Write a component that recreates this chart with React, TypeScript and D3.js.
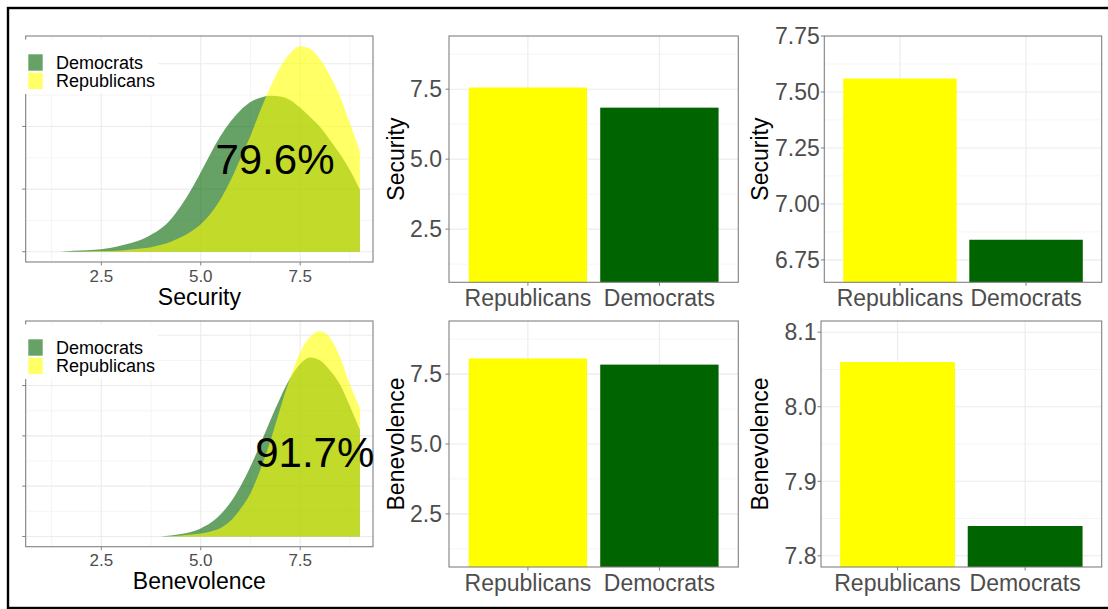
import React from "react";
import * as d3 from "d3";

// ---------- data ----------
const groups = ["Republicans", "Democrats"];
const securityMeans = [7.56, 6.84];
const benevolenceMeans = [8.06, 7.84];
const legendLabels = ["Democrats", "Republicans"];
const overlapLabels = ["79.6%", "91.7%"];
const overlapLabelY = [0.148, 0.168];

const securityDemX = [1.48, 1.8, 2.5, 3.0, 3.5, 3.75, 4.0, 4.25, 4.5, 4.75, 5.0, 5.25, 5.5, 5.75, 6.0, 6.25, 6.5, 6.75, 7.0, 7.25, 7.5, 7.75, 8.0, 8.25, 8.5, 8.75, 9.0];
const securityDemY = [0, 0.0015, 0.004, 0.01, 0.019, 0.027, 0.037, 0.052, 0.073, 0.098, 0.127, 0.157, 0.185, 0.208, 0.226, 0.239, 0.246, 0.249, 0.248, 0.242, 0.23, 0.215, 0.199, 0.178, 0.156, 0.13, 0.099];
const securityRepX = [2.0, 2.5, 3.0, 3.5, 3.75, 4.0, 4.25, 4.5, 4.75, 5.0, 5.25, 5.5, 5.75, 6.0, 6.25, 6.5, 6.75, 7.0, 7.25, 7.5, 7.75, 8.0, 8.25, 8.5, 8.75, 9.0];
const securityRepY = [0, 0.001, 0.002, 0.005, 0.007, 0.011, 0.016, 0.023, 0.032, 0.044, 0.061, 0.084, 0.114, 0.149, 0.185, 0.226, 0.263, 0.295, 0.317, 0.328, 0.324, 0.307, 0.281, 0.248, 0.205, 0.161];

const benevolenceDemX = [3.98, 4.25, 4.5, 4.75, 5.0, 5.25, 5.5, 5.75, 6.0, 6.25, 6.5, 6.75, 7.0, 7.25, 7.5, 7.75, 8.0, 8.25, 8.5, 8.75, 9.0];
const benevolenceDemY = [0, 0.002, 0.005, 0.009, 0.016, 0.027, 0.044, 0.068, 0.1, 0.139, 0.184, 0.231, 0.276, 0.315, 0.343, 0.356, 0.35, 0.33, 0.302, 0.259, 0.212];
const benevolenceRepX = [4.2, 4.5, 4.75, 5.0, 5.25, 5.5, 5.75, 6.0, 6.25, 6.5, 6.75, 7.0, 7.25, 7.5, 7.75, 8.0, 8.25, 8.5, 8.75, 9.0];
const benevolenceRepY = [0, 0.002, 0.004, 0.006, 0.01, 0.017, 0.031, 0.055, 0.086, 0.133, 0.19, 0.255, 0.316, 0.366, 0.397, 0.408, 0.395, 0.357, 0.302, 0.255];

const densityXTicks = [2.5, 5.0, 7.5];
const securityDensityTicks = [0, 0.1, 0.2, 0.3];
const benevolenceDensityTicks = [0, 0.1, 0.2, 0.3, 0.4];
const fullYTicks = [2.5, 5.0, 7.5];
const securityZoomTicks = [6.75, 7.0, 7.25, 7.5, 7.75];
const benevolenceZoomTicks = [7.8, 7.9, 8.0, 8.1];

// ---------- style ----------
const FONT = "'Liberation Sans', Arial, Helvetica, sans-serif";
const GRID_MAJOR = "#EBEBEB";
const GRID_MINOR = "#F2F2F2";
const BORDER = "#808080";
const TICK = "#808080";
const TICK_TEXT = "#4D4D4D";
const DEM_FILL = "#006400";
const REP_FILL = "#FFFF00";

type Box = { left: number; right: number; top: number; bottom: number };

function minorTicks(major: number[], domain: number[]) {
  const step = major[1] - major[0];
  let v = major[0] - step / 2;
  while (v - step >= domain[0]) v -= step;
  const out: number[] = [];
  for (; v <= domain[1] + 1e-9; v += step) if (v >= domain[0] - 1e-9) out.push(v);
  return out;
}

function DensityPanel(props: {
  box: Box; demX: number[]; demY: number[]; repX: number[]; repY: number[];
  yTicks: number[]; title: string; label: string; labelY: number; demMean: number; clipId: string;
}) {
  const { box, demX, demY, repX, repY, yTicks, title, label, labelY, demMean, clipId } = props;
  const x = d3.scaleLinear().domain([0.6, 9.33]).range([box.left, box.right]);
  const maxD = d3.max([...demY, ...repY]) as number;
  const yDom = [-0.05 * maxD, 1.05 * maxD];
  const y = d3.scaleLinear().domain(yDom).range([box.bottom, box.top]);
  const area = (xs: number[], ys: number[]) =>
    d3.area<number>().x((_, i) => x(xs[i])).y0(y(0)).y1((d) => y(d)).curve(d3.curveMonotoneX)(ys) || "";
  const xMinor = minorTicks(densityXTicks, x.domain());
  const yMinor = minorTicks(yTicks, yDom);
  const fmt = d3.format(".1f");
  const cx = (box.left + box.right) / 2;
  return (
    <g>
      <defs>
        <clipPath id={clipId}><rect x={box.left} y={box.top} width={box.right - box.left} height={box.bottom - box.top} /></clipPath>
      </defs>
      <rect x={box.left} y={box.top} width={box.right - box.left} height={box.bottom - box.top} fill="white" />
      <g clipPath={`url(#${clipId})`}>
        {xMinor.map((v) => <line key={"xm" + v} x1={x(v)} x2={x(v)} y1={box.top} y2={box.bottom} stroke={GRID_MINOR} strokeWidth={0.8} />)}
        {yMinor.map((v) => <line key={"ym" + v} y1={y(v)} y2={y(v)} x1={box.left} x2={box.right} stroke={GRID_MINOR} strokeWidth={0.8} />)}
        {densityXTicks.map((v) => <line key={"xM" + v} x1={x(v)} x2={x(v)} y1={box.top} y2={box.bottom} stroke={GRID_MAJOR} strokeWidth={1.1} />)}
        {yTicks.map((v) => <line key={"yM" + v} y1={y(v)} y2={y(v)} x1={box.left} x2={box.right} stroke={GRID_MAJOR} strokeWidth={1.1} />)}
        <path d={area(demX, demY)} fill={DEM_FILL} fillOpacity={0.6} />
        <path d={area(repX, repY)} fill={REP_FILL} fillOpacity={0.6} />
      </g>
      <rect x={box.left} y={box.top} width={box.right - box.left} height={box.bottom - box.top} fill="none" stroke={BORDER} strokeWidth={1.1} />
      {yTicks.map((v) => <line key={"yt" + v} x1={box.left - 3.5} x2={box.left} y1={y(v)} y2={y(v)} stroke={TICK} strokeWidth={1} />)}
      {densityXTicks.map((v) => (
        <g key={"xt" + v}>
          <line x1={x(v)} x2={x(v)} y1={box.bottom} y2={box.bottom + 3.5} stroke={TICK} strokeWidth={1} />
          <text x={x(v)} y={box.bottom + 19.5} textAnchor="middle" fontSize={17} fill={TICK_TEXT} fontFamily={FONT}>{fmt(v)}</text>
        </g>
      ))}
      <text x={cx} y={box.bottom + 42.5} textAnchor="middle" fontSize={23} fill="#000" fontFamily={FONT}>{title}</text>
      {/* legend */}
      <rect x={18} y={box.top + 3.5} width={140} height={54.5} fill="white" />
      <rect x={28.3} y={box.top + 18.3} width={14.4} height={16.4} fill={DEM_FILL} fillOpacity={0.6} />
      <rect x={28.3} y={box.top + 36.7} width={14.4} height={16.4} fill={REP_FILL} fillOpacity={0.6} />
      <text x={56} y={box.top + 33.3} fontSize={18} fontFamily={FONT} fill="#000">{legendLabels[0]}</text>
      <text x={56} y={box.top + 51.3} fontSize={18} fontFamily={FONT} fill="#000">{legendLabels[1]}</text>
      <text x={x(demMean) + 1} y={y(labelY) + 0.358 * 42} textAnchor="middle" fontSize={42} fontFamily={FONT} fill="#000">{label}</text>
    </g>
  );
}

function BarPanel(props: {
  box: Box; values: number[]; yDomain: number[]; yTicks: number[]; yTitle: string;
  fmt: string; labelGap: number; titleX: number; clipId: string;
}) {
  const { box, values, yDomain, yTicks, yTitle, fmt, labelGap, titleX, clipId } = props;
  const x = d3.scaleBand<string>().domain(groups).range([box.left, box.right]).paddingInner(0.1).paddingOuter(0.15);
  const y = d3.scaleLinear().domain(yDomain).range([box.bottom, box.top]);
  const yMinor = minorTicks(yTicks, yDomain);
  const f = d3.format(fmt);
  const center = (g: string) => (x(g) as number) + x.bandwidth() / 2;
  const cy = (box.top + box.bottom) / 2;
  const colors = [REP_FILL, DEM_FILL];
  return (
    <g>
      <defs>
        <clipPath id={clipId}><rect x={box.left} y={box.top} width={box.right - box.left} height={box.bottom - box.top} /></clipPath>
      </defs>
      <g clipPath={`url(#${clipId})`}>
        {yMinor.map((v) => <line key={"ym" + v} y1={y(v)} y2={y(v)} x1={box.left} x2={box.right} stroke={GRID_MINOR} strokeWidth={0.8} />)}
        {yTicks.map((v) => <line key={"yM" + v} y1={y(v)} y2={y(v)} x1={box.left} x2={box.right} stroke={GRID_MAJOR} strokeWidth={1.1} />)}
        {groups.map((g) => <line key={"xM" + g} x1={center(g)} x2={center(g)} y1={box.top} y2={box.bottom} stroke={GRID_MAJOR} strokeWidth={1.1} />)}
        {groups.map((g, i) => (
          <rect key={"b" + g} x={x(g)} width={x.bandwidth()} y={y(values[i])}
            height={Math.max(0, box.bottom + 5 - y(values[i]))} fill={colors[i]} />
        ))}
      </g>
      <rect x={box.left} y={box.top} width={box.right - box.left} height={box.bottom - box.top} fill="none" stroke={BORDER} strokeWidth={1.1} />
      {yTicks.map((v) => (
        <g key={"yt" + v}>
          <line x1={box.left - 3.5} x2={box.left} y1={y(v)} y2={y(v)} stroke={TICK} strokeWidth={1} />
          <text x={box.left - labelGap} y={y(v) + 0.358 * 23} textAnchor="end" fontSize={23} fill={TICK_TEXT} fontFamily={FONT}>{f(v)}</text>
        </g>
      ))}
      {groups.map((g) => (
        <g key={"xt" + g}>
          <line x1={center(g)} x2={center(g)} y1={box.bottom} y2={box.bottom + 3.5} stroke={TICK} strokeWidth={1} />
          <text x={center(g)} y={box.bottom + 23.5} textAnchor="middle" fontSize={23} fill={TICK_TEXT} fontFamily={FONT}>{g}</text>
        </g>
      ))}
      <text transform={`translate(${titleX},${cy}) rotate(-90)`} textAnchor="middle" fontSize={23} fill="#000" fontFamily={FONT}>{yTitle}</text>
    </g>
  );
}

export default function App() {
  return (
    <svg width={1108} height={609} style={{ position: "absolute", left: 0, top: 0, background: "white" }}>
      <rect x={0} y={0} width={1108} height={609} fill="white" />
      <DensityPanel box={{ left: 25.7, right: 373, top: 36, bottom: 262 }}
        demX={securityDemX} demY={securityDemY} repX={securityRepX} repY={securityRepY}
        yTicks={securityDensityTicks} title="Security" label={overlapLabels[0]} labelY={overlapLabelY[0]}
        demMean={securityMeans[1]} clipId="c1" />
      <DensityPanel box={{ left: 25.7, right: 373, top: 321, bottom: 546.7 }}
        demX={benevolenceDemX} demY={benevolenceDemY} repX={benevolenceRepX} repY={benevolenceRepY}
        yTicks={benevolenceDensityTicks} title="Benevolence" label={overlapLabels[1]} labelY={overlapLabelY[1]}
        demMean={benevolenceMeans[1]} clipId="c2" />
      <BarPanel box={{ left: 449, right: 738.3, top: 36, bottom: 282.3 }} values={securityMeans}
        yDomain={[0.6, 9.4]} yTicks={fullYTicks} yTitle="Security" fmt=".1f" labelGap={7} titleX={404.3} clipId="c3" />
      <BarPanel box={{ left: 449, right: 738.3, top: 321, bottom: 567 }} values={benevolenceMeans}
        yDomain={[0.6, 9.4]} yTicks={fullYTicks} yTitle="Benevolence" fmt=".1f" labelGap={7} titleX={404.3} clipId="c4" />
      <BarPanel box={{ left: 824.3, right: 1101.7, top: 36, bottom: 282.3 }} values={securityMeans}
        yDomain={[6.65, 7.75]} yTicks={securityZoomTicks} yTitle="Security" fmt=".2f" labelGap={4.5} titleX={767.6} clipId="c5" />
      <BarPanel box={{ left: 821, right: 1101.7, top: 321, bottom: 567 }} values={benevolenceMeans}
        yDomain={[7.785, 8.115]} yTicks={benevolenceZoomTicks} yTitle="Benevolence" fmt=".1f" labelGap={4.5} titleX={767.6} clipId="c6" />
      <rect x={8} y={8} width={1110} height={600} fill="none" stroke="#000" strokeWidth={2.4} />
    </svg>
  );
}
